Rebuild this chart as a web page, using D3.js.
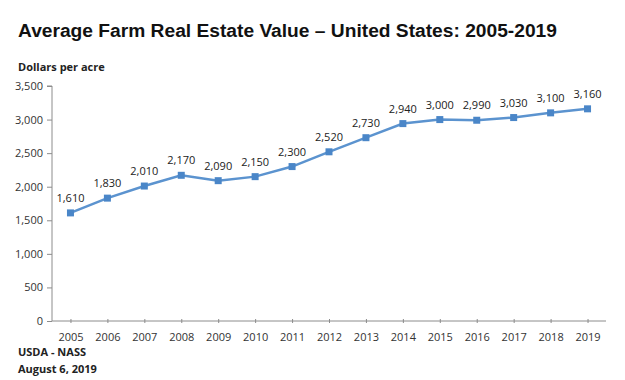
<!DOCTYPE html>
<html lang="en">
<head>
<meta charset="UTF-8">
<title>Average Farm Real Estate Value</title>
<script src="https://d3js.org/d3.v7.min.js"></script>
<style>
  body { margin: 0; background: #fff; }
  svg { display: block; }
  .title { font-family: 'Liberation Sans', Arial, sans-serif; font-weight: bold; font-size: 19.2px; fill: #111; }
  .small { font-family: 'Open Sans', sans-serif; font-size: 11px; fill: #222; }
  .bold { font-weight: bold; }
  .axis text { font-family: 'Open Sans', sans-serif; font-size: 11px; fill: #333; }
  .axis path, .axis line { stroke: #8c8c8c; }
</style>
</head>
<body>
<svg width="625" height="380"></svg>
<script>
  const years = ["2005","2006","2007","2008","2009","2010","2011","2012","2013","2014","2015","2016","2017","2018","2019"];
  const values = [1610, 1830, 2010, 2170, 2090, 2150, 2300, 2520, 2730, 2940, 3000, 2990, 3030, 3100, 3160];
  const yTicks = [0, 500, 1000, 1500, 2000, 2500, 3000, 3500];

  const svg = d3.select("svg");
  const plotL = 52, plotR = 606, plotT = 86, plotB = 321;

  const x = d3.scalePoint().domain(years).range([plotL, plotR]).padding(0.5);
  const y = d3.scaleLinear().domain([0, 3500]).range([plotB, plotT]);
  const fmt = d3.format(",");

  svg.append("text").attr("class", "title").attr("x", 18).attr("y", 37)
    .text("Average Farm Real Estate Value \u2013 United States: 2005-2019");
  svg.append("text").attr("class", "small bold").attr("x", 18).attr("y", 71).text("Dollars per acre");

  svg.append("g").attr("class", "axis")
    .attr("transform", `translate(${plotL},0)`)
    .call(d3.axisLeft(y).tickValues(yTicks).tickFormat(fmt).tickSize(5).tickPadding(4))
    .call(g => g.select(".domain").attr("d", `M-5,${plotT}H0V${plotB}`));

  svg.append("g").attr("class", "axis")
    .attr("transform", `translate(0,${plotB})`)
    .call(d3.axisBottom(x).tickSizeInner(4).tickSizeOuter(0).tickPadding(8))
    .call(g => g.selectAll(".tick line").attr("y1", -2).attr("y2", 2))
    .call(g => g.select(".domain").attr("d", `M${plotL},0H${plotR}`));

  const pts = years.map((yr, i) => ({ yr, v: values[i] }));

  svg.append("path").datum(pts)
    .attr("fill", "none").attr("stroke", "#5b93cf").attr("stroke-width", 2.5)
    .attr("d", d3.line().x(d => x(d.yr)).y(d => y(d.v)));

  svg.selectAll("rect.m").data(pts).enter().append("rect")
    .attr("class", "m")
    .attr("x", d => x(d.yr) - 3.5).attr("y", d => y(d.v) - 3.5)
    .attr("width", 7).attr("height", 7).attr("fill", "#4a86c8");

  svg.selectAll("text.lbl").data(pts).enter().append("text")
    .attr("class", "small lbl")
    .attr("x", d => x(d.yr)).attr("y", d => y(d.v) - 11)
    .attr("text-anchor", "middle").text(d => fmt(d.v));

  svg.append("text").attr("class", "small bold").attr("x", 18).attr("y", 356).text("USDA - NASS");
  svg.append("text").attr("class", "small bold").attr("x", 18).attr("y", 373).text("August 6, 2019");
</script>
</body>
</html>
